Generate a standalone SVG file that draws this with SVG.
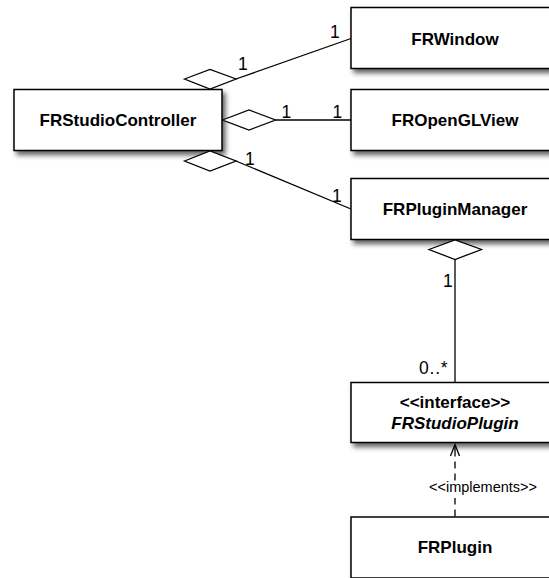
<svg xmlns="http://www.w3.org/2000/svg" width="549" height="578" viewBox="0 0 549 578">
<defs>
<filter id="sh" x="-10%" y="-10%" width="130%" height="140%">
<feDropShadow dx="3" dy="4" stdDeviation="2.5" flood-color="#000" flood-opacity="0.6"/>
</filter>
</defs>
<style>
.box{fill:#fff;stroke:#000;stroke-width:1.5;filter:url(#sh)}
.t{font-family:"Liberation Sans",Arial,sans-serif;font-size:17px;font-weight:bold;text-anchor:middle;fill:#000}
.m{font-family:"Liberation Sans",Arial,sans-serif;font-size:17.5px;fill:#000}
.lbl{font-family:"Liberation Sans",Arial,sans-serif;font-size:14.5px;fill:#000}
.ln{fill:none;stroke:#000;stroke-width:1.3}
.dia{fill:#fff;stroke:#000;stroke-width:1.3}
</style>
<rect width="549" height="578" fill="#fff"/>
<g id="FRWindow"><rect class="box" x="351" y="7.5" width="208" height="61"/><text class="t" x="455" y="45">FRWindow</text></g>
<g id="FROpenGLView"><rect class="box" x="351" y="89.5" width="208" height="61"/><text class="t" x="455" y="126">FROpenGLView</text></g>
<g id="FRStudioController"><rect class="box" x="14" y="89.5" width="208" height="61"/><text class="t" x="118" y="126">FRStudioController</text></g>
<g id="FRPluginManager"><rect class="box" x="351" y="178.5" width="208" height="61"/><text class="t" x="455" y="215">FRPluginManager</text></g>
<g id="FRStudioPlugin"><rect class="box" x="351" y="382.5" width="208" height="60"/><text class="t" x="455" y="407.5">&lt;&lt;interface&gt;&gt;</text><text class="t" x="455" y="428.5" font-style="italic">FRStudioPlugin</text></g>
<g id="FRPlugin"><rect class="box" x="351" y="517" width="208" height="61"/><text class="t" x="455" y="553">FRPlugin</text></g>
<g id="connectors">
<line class="ln" x1="236" y1="79" x2="351" y2="38.5"/>
<path class="dia" d="M184.5,79 L210,69.5 L236,79 L210,89 Z"/>
<line class="ln" x1="275.5" y1="120" x2="351" y2="120"/>
<path class="dia" d="M222.5,120 L249,110 L275.5,120 L249,130 Z"/>
<line class="ln" x1="236" y1="161" x2="351" y2="209"/>
<path class="dia" d="M184.5,161 L210,151 L236,161 L210,171 Z"/>
<line class="ln" x1="455" y1="259.5" x2="455" y2="382.5"/>
<path class="dia" d="M429,249.5 L455,240 L481.5,249.5 L455,259.5 Z"/>
<line class="ln" x1="455" y1="516.5" x2="455" y2="456" stroke-dasharray="7,5"/>
<line class="ln" x1="455" y1="456" x2="455" y2="445"/>
<path class="ln" d="M450.5,456 L455,444.5 L459.5,456"/>
<rect x="428" y="481" width="112" height="17" fill="#fff"/>
<text class="lbl" x="429" y="492.3">&lt;&lt;implements&gt;&gt;</text>
<text class="m" x="238" y="70">1</text>
<text class="m" x="330" y="38">1</text>
<text class="m" x="281.5" y="118">1</text>
<text class="m" x="332.5" y="118">1</text>
<text class="m" x="245" y="165">1</text>
<text class="m" x="332" y="202">1</text>
<text class="m" x="443" y="287" font-size="18.5px">1</text>
<text class="m" x="419" y="374" font-size="18px" letter-spacing="0.8">0..*</text>
</g>
</svg>
